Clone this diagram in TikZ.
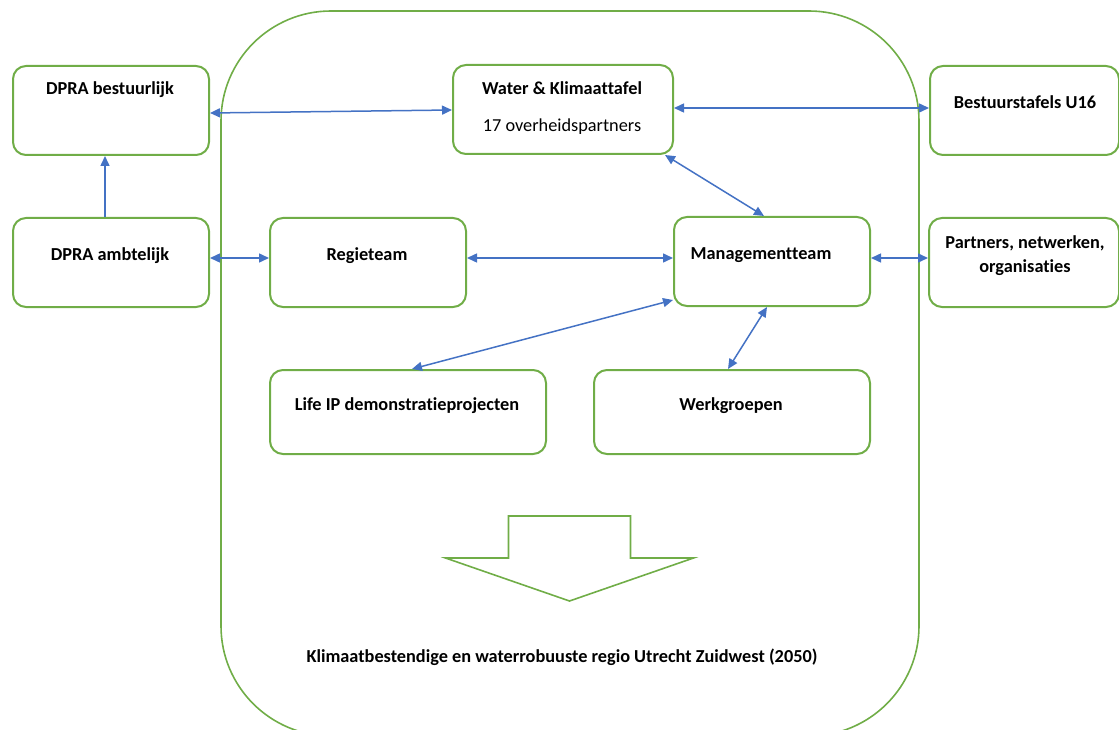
\documentclass[tikz,border=0pt]{standalone}
\usepackage{fontspec}
\setmainfont{Carlito}[Ligatures={NoCommon}]
\usetikzlibrary{arrows.meta}
\definecolor{grn}{HTML}{70AD47}
\definecolor{blu}{HTML}{4472C4}
\begin{document}
\begin{tikzpicture}[x=1pt,y=-1pt,
  >={Triangle[length=10pt,width=9pt]},
  box/.style={draw=grn, line width=2pt, rounded corners=13pt, inner sep=0pt, anchor=north west},
  lbl/.style={font=\fontsize{18.3}{24.4}\selectfont\bfseries, inner sep=0pt, anchor=base},
  sub/.style={font=\fontsize{18.3}{24.4}\selectfont, inner sep=0pt, anchor=base},
  conn/.style={draw=blu, line width=1.5pt}]
\useasboundingbox (0,0) rectangle (1119,730);
\clip (0,0) rectangle (1119,730);
% big container
\draw[grn, line width=1.6pt, rounded corners=110pt] (221,11) rectangle (919,736);
% boxes
\node[box, minimum width=196pt, minimum height=89pt] (dprab) at (12,65) {};
\node[box, minimum width=196pt, minimum height=89pt] (dpraa) at (12,217) {};
\node[box, minimum width=196pt, minimum height=89pt] (regie) at (269,217) {};
\node[box, minimum width=220pt, minimum height=89pt] (water) at (452,64) {};
\node[box, minimum width=189pt, minimum height=89pt] (bestuur) at (929,65) {};
\node[box, minimum width=196pt, minimum height=89pt] (mgmt) at (673,216) {};
\node[box, minimum width=190pt, minimum height=89pt] (partners) at (928,217) {};
\node[box, minimum width=276pt, minimum height=84pt] (life) at (269,369) {};
\node[box, minimum width=276pt, minimum height=84pt] (werk) at (593,369) {};
% labels
\node[lbl] (tdprab) at (110,94.3) {DPRA bestuurlijk};
\node[lbl] (tdpraa) at (110,260.3) {DPRA ambtelijk};
\node[lbl] (tregie) at (367,260.3) {Regieteam};
\node[lbl] (twater) at (562,94.7) {Water \& Klimaattafel};
\node[sub] (twater2) at (562,131.7) {17 overheidspartners};
\node[lbl] (tbestuur) at (1025,108.3) {Bestuurstafels U16};
\node[lbl] (tmgmt) at (761,259.7) {Managementteam};
\node[lbl] (tpart1) at (1025,248.3) {Partners, netwerken,};
\node[lbl] (tpart2) at (1025,272.7) {organisaties};
\node[lbl] (tlife) at (407,410) {Life IP demonstratieprojecten};
\node[lbl] (twerk) at (731,410) {Werkgroepen};
\node[lbl] (goal) at (562,662.7) {Klimaatbestendige en waterrobuuste regio Utrecht Zuidwest (2050)};
% big down arrow
\draw[grn, line width=1.6pt, line join=miter]
  (508.5,516) -- (630.5,516) -- (630.5,558) -- (693.5,558) -- (569.5,601)
  -- (445.5,558) -- (508.5,558) -- cycle;
% connectors
\draw[conn, <->] ([yshift=-2.5pt]dprab.east) -- ([yshift=-0.5pt]water.west);
\draw[conn, <->] ([yshift=1.5pt]water.east) -- ([yshift=2.5pt]bestuur.west);
\draw[conn, ->] ([xshift=-6pt]dpraa.north) -- ([xshift=-6pt]dprab.south);
\draw[conn, <->] ([yshift=4.5pt]dpraa.east) -- ([yshift=4.5pt]regie.west);
\draw[conn, <->] ([yshift=4.5pt]regie.east) -- ([yshift=3.5pt]mgmt.west);
\draw[conn, <->] ([yshift=3.5pt]mgmt.east) -- ([yshift=4.5pt]partners.west);
\draw[conn, <->] ([xshift=-9pt]water.south east) -- ([xshift=-8pt]mgmt.north);
\draw[conn, <->] ([xshift=4pt]life.north) -- ([yshift=7pt]mgmt.south west);
\draw[conn, <->] ([xshift=-5pt]mgmt.south) -- ([xshift=-4pt]werk.north);
\end{tikzpicture}
\end{document}
